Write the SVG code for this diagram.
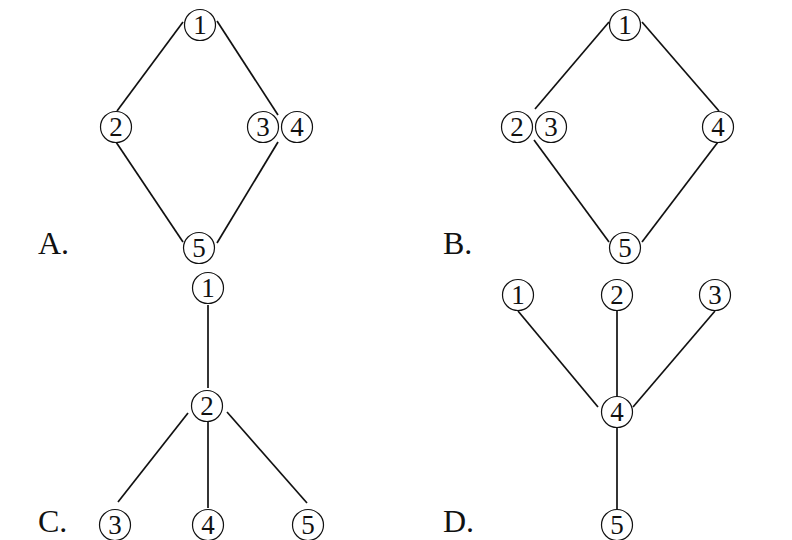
<svg xmlns="http://www.w3.org/2000/svg" width="792" height="540" viewBox="0 0 792 540">
<style>
.n circle{fill:#fff;stroke:#111;stroke-width:1.2}
.n text{font-family:"Liberation Serif",serif;font-size:27px;fill:#111;text-anchor:middle}
.lbl{font-family:"Liberation Serif",serif;font-size:32px;fill:#111}
#edges line{stroke:#111;stroke-width:1.7}
</style>
<rect width="792" height="540" fill="#fff"/>
<g id="edges">
<line x1="183" y1="22" x2="117" y2="111"/>
<line x1="217" y1="21" x2="278" y2="115"/>
<line x1="116" y1="142" x2="183" y2="242"/>
<line x1="278" y1="142" x2="217" y2="243"/>
<line x1="609" y1="22" x2="535" y2="109"/>
<line x1="642" y1="22" x2="719" y2="111"/>
<line x1="534" y1="140" x2="609" y2="242"/>
<line x1="718" y1="142" x2="642" y2="242"/>
<line x1="208" y1="305" x2="208" y2="388"/>
<line x1="188" y1="413" x2="118" y2="502"/>
<line x1="208" y1="422" x2="208" y2="508"/>
<line x1="227" y1="412" x2="307" y2="503"/>
<line x1="518" y1="311" x2="598" y2="407"/>
<line x1="617" y1="310" x2="617" y2="402"/>
<line x1="715" y1="311" x2="633" y2="407"/>
<line x1="617" y1="428" x2="617" y2="509"/>
</g>
<g id="A">
<text class="lbl" x="38" y="254">A.</text>
<g id="A1" class="n"><circle cx="200" cy="25" r="15.5"/><text x="200" y="34">1</text></g>
<g id="A2" class="n"><circle cx="116" cy="127" r="15.5"/><text x="116" y="136">2</text></g>
<g id="A3" class="n"><circle cx="263" cy="127" r="15.5"/><text x="263" y="136">3</text></g>
<g id="A4" class="n"><circle cx="297" cy="127" r="15.5"/><text x="297" y="136">4</text></g>
<g id="A5" class="n"><circle cx="199" cy="248" r="15.5"/><text x="199" y="257">5</text></g>
</g>
<g id="B">
<text class="lbl" x="443" y="254">B.</text>
<g id="B1" class="n"><circle cx="625" cy="25" r="15.5"/><text x="625" y="34">1</text></g>
<g id="B2" class="n"><circle cx="517" cy="127" r="15.5"/><text x="517" y="136">2</text></g>
<g id="B3" class="n"><circle cx="551" cy="127" r="15.5"/><text x="551" y="136">3</text></g>
<g id="B4" class="n"><circle cx="718" cy="127" r="15.5"/><text x="718" y="136">4</text></g>
<g id="B5" class="n"><circle cx="625" cy="248" r="15.5"/><text x="625" y="257">5</text></g>
</g>
<g id="C">
<text class="lbl" x="38" y="532">C.</text>
<g id="C1" class="n"><circle cx="208" cy="288" r="15.5"/><text x="208" y="297">1</text></g>
<g id="C2" class="n"><circle cx="207" cy="406" r="15.5"/><text x="207" y="415">2</text></g>
<g id="C3" class="n"><circle cx="115" cy="525" r="15.5"/><text x="115" y="534">3</text></g>
<g id="C4" class="n"><circle cx="208" cy="525" r="15.5"/><text x="208" y="534">4</text></g>
<g id="C5" class="n"><circle cx="308" cy="525" r="15.5"/><text x="308" y="534">5</text></g>
</g>
<g id="D">
<text class="lbl" x="443" y="532">D.</text>
<g id="D1" class="n"><circle cx="518" cy="295" r="15.5"/><text x="518" y="304">1</text></g>
<g id="D2" class="n"><circle cx="617" cy="295" r="15.5"/><text x="617" y="304">2</text></g>
<g id="D3" class="n"><circle cx="715" cy="295" r="15.5"/><text x="715" y="304">3</text></g>
<g id="D4" class="n"><circle cx="617" cy="412" r="15.5"/><text x="617" y="421">4</text></g>
<g id="D5" class="n"><circle cx="617" cy="525" r="15.5"/><text x="617" y="534">5</text></g>
</g>
</svg>
